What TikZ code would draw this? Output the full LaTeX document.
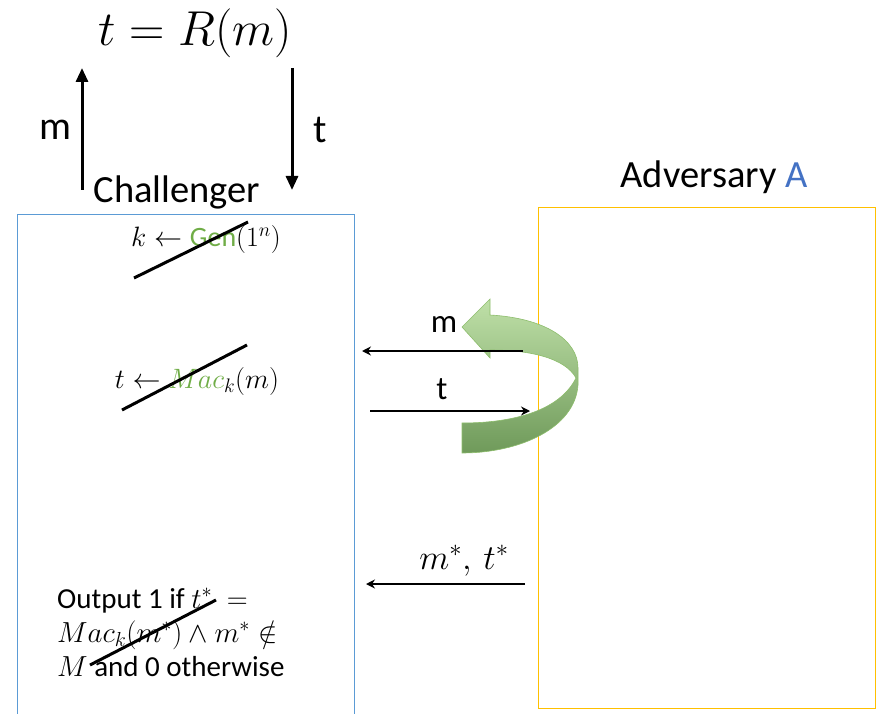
\documentclass[tikz,border=0pt]{standalone}
\usepackage{fix-cm}
\usepackage{amsmath}
\usepackage{amssymb}
\usepackage{fontspec}
\setmainfont{Carlito}
\usetikzlibrary{positioning,arrows.meta}
\definecolor{chalblue}{HTML}{5B9BD5}
\definecolor{advgold}{HTML}{FFC000}
\definecolor{algogreen}{HTML}{70AD47}
\definecolor{advblue}{HTML}{4472C4}
\definecolor{ribbonlight}{HTML}{BFE0A8}
\definecolor{ribbondark}{HTML}{6F9A5A}
\tikzset{
  bigarr/.style={-{Triangle[length=14pt,width=12pt]},line width=3pt},
  msgarr/.style={-{Stealth[length=9pt,width=9pt]},line width=1.5pt},
  strike/.style={line width=3pt},
  party/.style={line width=1pt,fill=none},
  title/.style={inner sep=0pt,font=\fontsize{38.5}{46}\selectfont},
  lbl/.style={inner sep=0pt,font=\fontsize{40}{48}\selectfont},
  msglbl/.style={inner sep=0pt,font=\fontsize{33}{40}\selectfont},
  algo/.style={inner sep=0pt,font=\fontsize{28}{34}\selectfont}
}

\begin{document}
\begin{tikzpicture}[x=1pt,y=-1pt]
\useasboundingbox (0,0) rectangle (880,714);
\clip (0,0) rectangle (880,714);

% the two parties
\node[party,draw=chalblue,anchor=north west,minimum width=337pt,minimum height=520pt] (chal) at (17,214) {};
\node[party,draw=advgold,anchor=north west,minimum width=337pt,minimum height=501pt] (adv) at (538,207) {};
\node[title] (chalname) at (177,192) {Challenger};
\node[title] (advname) at (714,177) {Adversary \textcolor{advblue}{A}};

% random oracle on top
\node[inner sep=0pt,font=\fontsize{49}{58}\selectfont] (oracle) at (195,33) {$t=R(m)$};
\coordinate (mfrom) at (82,190);
\coordinate (mto) at (82,68);
\coordinate (tfrom) at (292,68);
\coordinate (tto) at (292,190);
\draw[bigarr] (mfrom) -- (mto);
\draw[bigarr] (tfrom) -- (tto);
\node[lbl] (mlbl) at (55,130) {m};
\node[lbl] (tlbl) at (320,130) {t};

% challenger's steps, crossed out
\node[algo] (gen) at (206,240) {$k\leftarrow \textcolor{algogreen}{\mathrm{Gen}}(1^n)$};
\node[algo] (mac) at (197,381) {$t\leftarrow \textcolor{algogreen}{\mathnormal{Mac}}_k(m)$};
\draw[strike] (134,278) -- (248,222);
\draw[strike] (122,410) -- (247,345);

% the adversary answers its own queries
\shade[top color=ribbonlight,bottom color=ribbondark,draw=algogreen!80,line width=0.6pt]
  (490,315) .. controls (545,318) and (578,340) .. (578,368)
  -- (578,385) .. controls (575,428) and (520,453) .. (462,453)
  -- (462,423) .. controls (515,423) and (560,410) .. (576,378)
  .. controls (565,358) and (530,350) .. (490,350)
  -- (490,358) -- (462,327) -- (490,299) -- cycle;

% messages
\coordinate (qfrom) at (523,351);
\coordinate (qto) at (362,351);
\coordinate (afrom) at (370,411);
\coordinate (ato) at (530,411);
\coordinate (ffrom) at (525,584);
\coordinate (fto) at (366,584);
\draw[msgarr] (qfrom) -- (qto);
\draw[msgarr] (afrom) -- (ato);
\draw[msgarr] (ffrom) -- (fto);
\node[msglbl] (qlbl) at (444,324) {m};
\node[msglbl] (albl) at (442,389) {t};
\node[inner sep=0pt,font=\fontsize{35}{42}\selectfont] (flbl) at (464,561) {$m^*,\,t^*$};

% output rule
\node[inner sep=0pt,anchor=north west,align=left,font=\fontsize{29}{34}\selectfont] (out) at (57,588)
  {Output 1 if $t^*\ =$\\ $\mathnormal{Mac}_k(m^*)\wedge m^*\notin$\\ $M$ and 0 otherwise};
\draw[strike] (90,665) -- (216,600);
\end{tikzpicture}
\end{document}
